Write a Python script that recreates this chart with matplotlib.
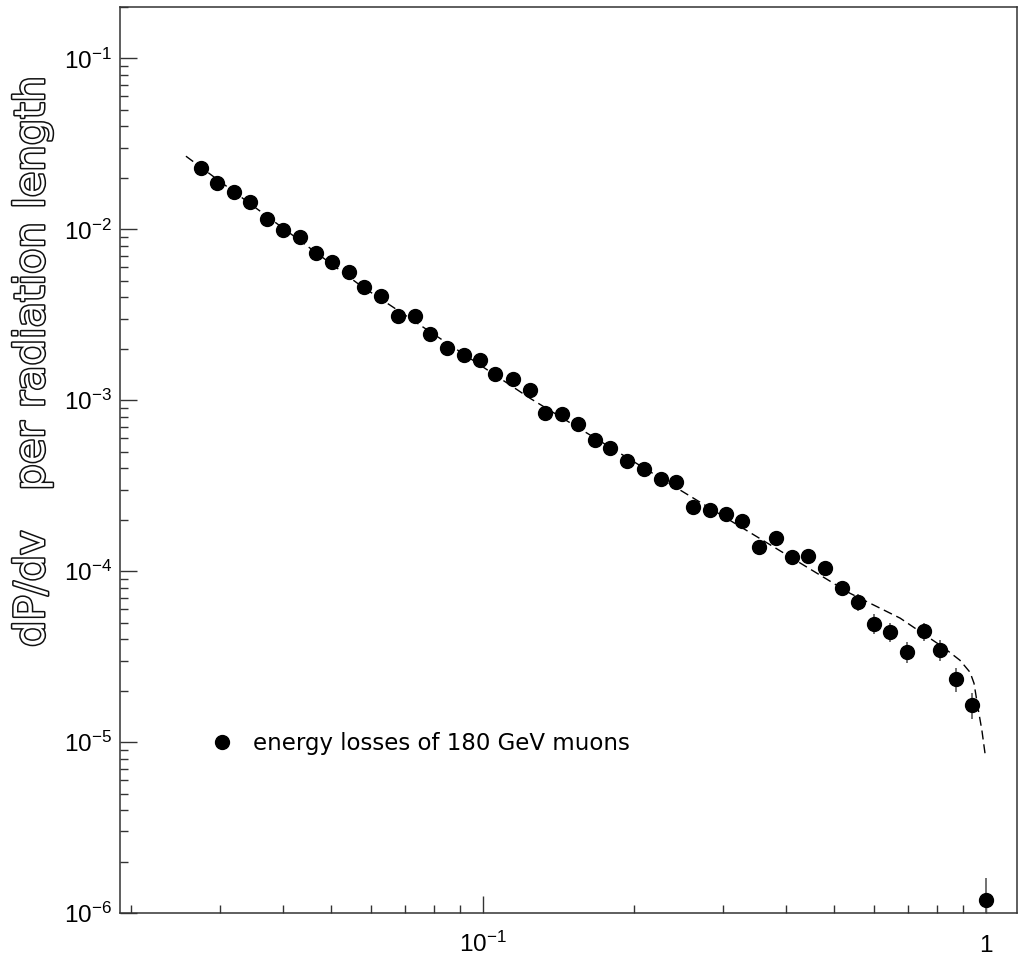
import numpy as np
import matplotlib
matplotlib.use("Agg")
import matplotlib.pyplot as plt
import matplotlib.patheffects as pe
from matplotlib.ticker import LogLocator, NullFormatter

# measured energy losses of 180 GeV muons (v = fractional energy transfer)
v = [0.0275, 0.0296, 0.0320, 0.0345, 0.0372, 0.0401, 0.0433, 0.0466, 0.0502, 0.0542,
     0.0581, 0.0629, 0.0679, 0.0732, 0.0787, 0.0849, 0.0918, 0.0988, 0.106, 0.115,
     0.124, 0.133, 0.144, 0.155, 0.167, 0.179, 0.194, 0.209, 0.226, 0.242,
     0.262, 0.283, 0.305, 0.328, 0.354, 0.383, 0.412, 0.443, 0.479, 0.519,
     0.558, 0.600, 0.645, 0.697, 0.754, 0.811, 0.873, 0.941, 1.0]
dpdv = [2.29e-2, 1.88e-2, 1.66e-2, 1.44e-2, 1.15e-2, 9.93e-3, 9.04e-3, 7.23e-3, 6.45e-3, 5.60e-3,
        4.57e-3, 4.08e-3, 3.12e-3, 3.12e-3, 2.45e-3, 2.02e-3, 1.85e-3, 1.71e-3, 1.42e-3, 1.34e-3,
        1.15e-3, 8.40e-4, 8.35e-4, 7.31e-4, 5.87e-4, 5.27e-4, 4.44e-4, 3.94e-4, 3.44e-4, 3.33e-4,
        2.36e-4, 2.27e-4, 2.16e-4, 1.96e-4, 1.38e-4, 1.56e-4, 1.21e-4, 1.22e-4, 1.05e-4, 7.92e-5,
        6.59e-5, 4.94e-5, 4.41e-5, 3.37e-5, 4.45e-5, 3.46e-5, 2.35e-5, 1.65e-5, 1.19e-6]
rel_err = [0.03] * 20 + [0.05] * 10 + [0.06] * 5 + [0.08] * 5 + \
          [0.11, 0.13, 0.13, 0.14, 0.12, 0.14, 0.16, 0.17, 0.35]

# theory curve (dashed)
v_curve = [0.0257, 0.0570, 0.124, 0.247, 0.537, 0.676, 0.823, 0.889, 0.931, 0.948, 0.965, 0.983, 0.997]
dpdv_curve = [2.68e-2, 4.72e-3, 1.03e-3, 2.98e-4, 7.43e-5, 5.31e-5, 3.59e-5, 3.01e-5, 2.56e-5,
              2.21e-5, 1.60e-5, 1.17e-5, 8.6e-6]

plt.rcParams['font.family'] = ['Liberation Sans', 'DejaVu Sans']
plt.rcParams['mathtext.fontset'] = 'custom'
plt.rcParams['mathtext.rm'] = 'Liberation Sans'

fig = plt.figure(figsize=(10.2, 9.6), dpi=100)
ax = fig.add_axes([0.1176, 0.0490, 0.8794, 0.9437])
ax.set_xscale('log')
ax.set_yscale('log')
ax.set_xlim(0.019, 1.154)
ax.set_ylim(1e-6, 0.2)

yerr = np.array(dpdv) * np.array(rel_err)
ax.errorbar(v, dpdv, yerr=yerr, fmt='none', ecolor='#666666', elinewidth=1.3, zorder=2)
ax.plot(v_curve, dpdv_curve, color='black', lw=1.0, dashes=(6.5, 3.5), zorder=3)
ax.plot(v, dpdv, 'o', color='black', ms=10, zorder=4, label='energy losses of 180 GeV muons')

# ticks
ax.set_xticks([0.1, 1], [r'$\mathregular{10^{-1}}$', '1'])
ax.xaxis.set_minor_locator(LogLocator(base=10, subs=np.arange(2, 10)))
ax.xaxis.set_minor_formatter(NullFormatter())
yt = [1e-6, 1e-5, 1e-4, 1e-3, 1e-2, 1e-1]
ax.set_yticks(yt, [r'$\mathregular{10^{-%d}}$' % k for k in range(6, 0, -1)])
ax.yaxis.set_minor_locator(LogLocator(base=10, subs=np.arange(2, 10)))
ax.yaxis.set_minor_formatter(NullFormatter())
ax.tick_params(which='both', direction='in', top=False, right=False, color='#333333', width=1.0)
ax.tick_params(which='major', length=12, labelsize=17.5)
ax.tick_params(which='minor', length=5.8)
ax.tick_params(axis='y', pad=5.8)
ax.tick_params(axis='x', pad=28)
for lbl in ax.get_xticklabels():
    lbl.set_verticalalignment('baseline')

for s in ax.spines.values():
    s.set_linewidth(1.1)
    s.set_color('#333333')

# hollow y label
fig.text(44 / 1020, 1 - 362 / 960, 'dP/dv   per radiation length', rotation=90,
         rotation_mode='anchor', ha='center', va='baseline', fontsize=30,
         family='DejaVu Sans', color='white',
         path_effects=[pe.withStroke(linewidth=2.2, foreground='#111111')])

ax.legend(loc='center left', bbox_to_anchor=(0.1009, 0.1865), frameon=False,
          borderpad=0, borderaxespad=0, handlelength=1.0, handletextpad=0.86,
          numpoints=1, prop={'family': 'DejaVu Sans', 'size': 16.5})

fig.savefig('out.png', dpi=100)
